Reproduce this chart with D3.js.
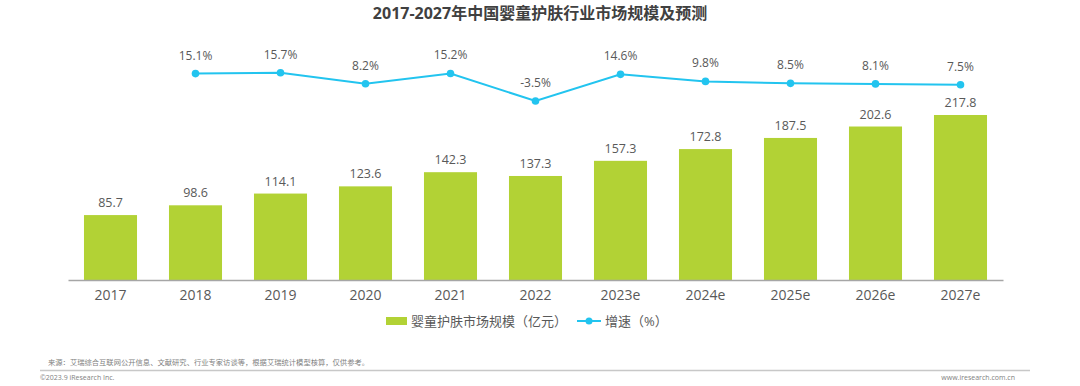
<!DOCTYPE html>
<html>
<head>
<meta charset="utf-8">
<script src="https://cdn.jsdelivr.net/npm/d3@7"></script>
<style>
  body { margin: 0; background: #fff; }
  svg { display: block; font-family: "Open Sans", "Noto Sans CJK SC", sans-serif; }
</style>
</head>
<body>
<div id="chart"></div>
<script>
// chart data
let categories = ["2017", "2018", "2019", "2020", "2021", "2022", "2023e", "2024e", "2025e", "2026e", "2027e"];
let market_size = [85.7, 98.6, 114.1, 123.6, 142.3, 137.3, 157.3, 172.8, 187.5, 202.6, 217.8];
let growth_rate = [null, 15.1, 15.7, 8.2, 15.2, -3.5, 14.6, 9.8, 8.5, 8.1, 7.5];

let title_text = "2017-2027年中国婴童护肤行业市场规模及预测";
let bar_legend = "婴童护肤市场规模（亿元）";
let line_legend = "增速（%）";
let source_text = "来源：艾瑞综合互联网公开信息、文献研究、行业专家访谈等，根据艾瑞统计模型核算，仅供参考。";
let copyright_text = "©2023.9 iResearch Inc.";
let site_text = "www.iresearch.com.cn";

let width = 1080, height = 386;
let bar_color = "#b2d235";
let line_color = "#22c4ef";
let text_color = "#595959";

let svg = d3.select("#chart").append("svg")
    .attr("width", width)
    .attr("height", height);

// title
svg.append("text")
    .attr("x", 540)
    .attr("y", 19)
    .attr("text-anchor", "middle")
    .attr("font-size", 16)
    .attr("font-weight", "bold")
    .attr("fill", "#404040")
    .text(title_text);

let x = d3.scaleBand()
    .domain(categories)
    .range([68, 1003])
    .paddingInner(0.376)
    .paddingOuter(0.188);

let y = d3.scaleLinear()
    .domain([0, 250])
    .range([280, 90.6]);

let y2 = d3.scaleLinear()
    .domain([-5, 20])
    .range([103.2, 66.4]);

// bars
svg.append("g").selectAll("rect")
    .data(market_size)
    .join("rect")
    .attr("x", (d, i) => x(categories[i]))
    .attr("y", d => y(d))
    .attr("width", x.bandwidth())
    .attr("height", d => y(0) - y(d))
    .attr("fill", bar_color);

svg.append("g").selectAll("text")
    .data(market_size)
    .join("text")
    .attr("x", (d, i) => x(categories[i]) + x.bandwidth() / 2)
    .attr("y", d => y(d) - 8)
    .attr("text-anchor", "middle")
    .attr("font-size", 12.5)
    .attr("fill", text_color)
    .text(d => d.toFixed(1));

// x axis
let x_axis = g => g
    .attr("transform", `translate(0, ${y(0)})`)
    .call(d3.axisBottom(x).tickSize(0).tickPadding(10))
    .call(g => g.select(".domain").attr("stroke", "#a6a6a6").attr("stroke-width", 1.5))
    .call(g => g.selectAll("text")
        .attr("font-size", 14)
        .attr("fill", text_color)
        .attr("font-family", "\"Open Sans\", sans-serif"));
svg.append("g").call(x_axis);

// growth line
let line_data = growth_rate.map((v, i) => ({cat: categories[i], value: v})).filter(d => d.value !== null);
let line = d3.line()
    .x(d => x(d.cat) + x.bandwidth() / 2)
    .y(d => y2(d.value));

svg.append("path")
    .datum(line_data)
    .attr("fill", "none")
    .attr("stroke", line_color)
    .attr("stroke-width", 2)
    .attr("d", line);

svg.append("g").selectAll("circle")
    .data(line_data)
    .join("circle")
    .attr("cx", d => x(d.cat) + x.bandwidth() / 2)
    .attr("cy", d => y2(d.value))
    .attr("r", 3.8)
    .attr("fill", line_color);

svg.append("g").selectAll("text")
    .data(line_data)
    .join("text")
    .attr("x", d => x(d.cat) + x.bandwidth() / 2)
    .attr("y", d => y2(d.value) - 14)
    .attr("text-anchor", "middle")
    .attr("font-size", 12)
    .attr("fill", text_color)
    .text(d => d.value.toFixed(1) + "%");

// legend
let legend = svg.append("g");
legend.append("rect")
    .attr("x", 386).attr("y", 317)
    .attr("width", 21).attr("height", 8)
    .attr("fill", bar_color);
legend.append("text")
    .attr("x", 411).attr("y", 326)
    .attr("font-size", 13)
    .attr("fill", text_color)
    .text(bar_legend);
legend.append("line")
    .attr("x1", 577).attr("x2", 601)
    .attr("y1", 321).attr("y2", 321)
    .attr("stroke", line_color)
    .attr("stroke-width", 2);
legend.append("circle")
    .attr("cx", 589).attr("cy", 321).attr("r", 3.5)
    .attr("fill", line_color);
legend.append("text")
    .attr("x", 605).attr("y", 326)
    .attr("font-size", 13)
    .attr("fill", text_color)
    .text(line_legend);

// footer
svg.append("text")
    .attr("x", 48).attr("y", 365)
    .attr("font-size", 7.3)
    .attr("fill", "#7f7f7f")
    .text(source_text);
svg.append("line")
    .attr("x1", 40).attr("x2", 1030)
    .attr("y1", 370.5).attr("y2", 370.5)
    .attr("stroke", "#c8c8c8")
    .attr("stroke-width", 1.5);
svg.append("text")
    .attr("x", 40).attr("y", 380)
    .attr("font-size", 7)
    .attr("fill", "#7f7f7f")
    .text(copyright_text);
svg.append("text")
    .attr("x", 1015).attr("y", 380)
    .attr("text-anchor", "end")
    .attr("font-size", 7)
    .attr("fill", "#7f7f7f")
    .text(site_text);
</script>
</body>
</html>
